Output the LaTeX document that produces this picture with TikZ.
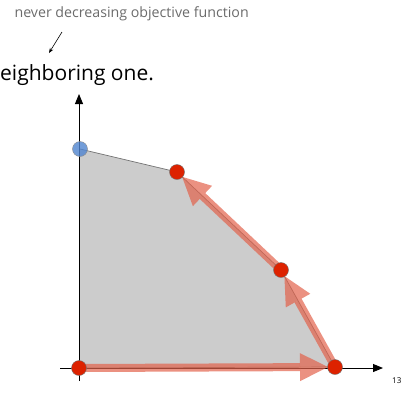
\documentclass[tikz,border=0pt]{standalone}
\usepackage{fontspec}
\setmainfont{Open Sans}
\usetikzlibrary{arrows.meta,positioning}
\definecolor{region}{HTML}{CCCCCC}
\definecolor{vertex}{HTML}{DD2200}
\definecolor{start}{HTML}{4F84D0}
\definecolor{climb}{HTML}{E2624B}
\definecolor{note}{HTML}{6B6B6B}
\begin{document}
\begin{tikzpicture}[x=1pt,y=-1pt,
  vtx/.style={circle,draw=black!55,fill=vertex,inner sep=0pt,minimum size=15pt},
  init/.style={circle,draw=black!45,fill=start,fill opacity=0.8,inner sep=0pt,minimum size=15pt},
  axis/.style={line width=0.9pt,-{Triangle[length=10pt,width=8pt]}},
  step up/.style={draw=climb,opacity=0.7,line width=8pt,
                  -{Triangle[length=28pt,width=28pt,line width=0pt]},shorten >=7pt},
  edge/.style={draw=black!55,line width=0.7pt}]
\useasboundingbox (0,0) rectangle (402,392);
% header
\node[note,font=\fontsize{14.2}{16}\selectfont,anchor=west] (remark) at (11,14) {never decreasing objective function};
\node[font=\fontsize{21}{24}\selectfont,anchor=west,inner sep=0pt] (line) at (0,75) {eighboring one.};
\coordinate (tail) at (62,32);
\draw[-{Stealth[length=5pt]},line width=0.6pt] (tail) -- (49,53);
% feasible region
\coordinate (o) at (79,368);
\coordinate (a) at (80,149);
\coordinate (b) at (177,172);
\coordinate (c) at (281,270);
\coordinate (d) at (335,367);
\fill[region] (o) -- (a) -- (b) -- (c) -- (d) -- cycle;
\draw[edge] (a) -- (b) -- (c) -- (d) -- (o);
% axes
\coordinate (ybot) at (79,381);
\coordinate (ytop) at (79,94);
\coordinate (xl) at (60,368);
\coordinate (xr) at (383,368);
\draw[axis] (ybot) -- (ytop);
\draw[axis] (xl) -- (xr);
% path of the pivots
\draw[step up] (o) -- (d);
\draw[step up] (d) -- (c);
\draw[step up] (c) -- (b);
% vertices
\node[init] (p0) at (a) {};
\node[vtx] (p1) at (o) {};
\node[vtx] (p2) at (d) {};
\node[vtx] (p3) at (c) {};
\node[vtx] (p4) at (b) {};
\node[font=\fontsize{8}{9}\selectfont\rmfamily,anchor=west,inner sep=0pt] (page) at (392,381) {13};
\end{tikzpicture}
\end{document}
